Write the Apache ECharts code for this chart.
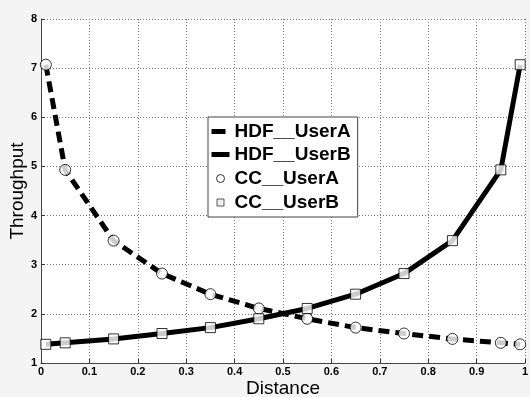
<!DOCTYPE html>
<html><head><meta charset="utf-8">
<script src="https://cdn.jsdelivr.net/npm/echarts@6/dist/echarts.min.js"></script>
<style>html,body{margin:0;padding:0;background:#f4f4f4}#c{width:530px;height:397px}</style>
</head><body><div id="c"></div>
<script>
const distance = [0.01, 0.05, 0.15, 0.25, 0.35, 0.45, 0.55, 0.65, 0.75, 0.85, 0.95, 0.99];
const userA = [7.07, 4.93, 3.49, 2.82, 2.40, 2.11, 1.90, 1.72, 1.60, 1.49, 1.41, 1.38];
const userB = [1.38, 1.41, 1.49, 1.60, 1.72, 1.90, 2.11, 2.40, 2.82, 3.49, 4.93, 7.07];
const seriesNames = ['HDF__UserA', 'HDF__UserB', 'CC__UserA', 'CC__UserB'];
const xTicks = [0, 0.1, 0.2, 0.3, 0.4, 0.5, 0.6, 0.7, 0.8, 0.9, 1];
const yTicks = [1, 2, 3, 4, 5, 6, 7, 8];

const pairs = ys => distance.map((x, i) => [x, ys[i]]);
const chart = echarts.init(document.getElementById('c'));
const lab = {color:'#000', fontWeight:'bold', fontSize:11, fontFamily:'Liberation Sans, Arial'};
const tick = {show:true, inside:true, length:4, lineStyle:{color:'#333', width:1}};
const axLine = {show:true, onZero:false, lineStyle:{color:'#444', width:1}};
chart.setOption({
  backgroundColor:'#f4f4f4',
  animation:false,
  grid:{left:41, top:19, right:5, bottom:34, outerBoundsMode:'none', containLabel:false,
    show:true, backgroundColor:'#fff', borderWidth:0},
  xAxis:{type:'value', min:xTicks[0], max:xTicks[xTicks.length-1], interval:0.1,
    name:'Distance', nameLocation:'middle', nameGap:16, nameMoveOverlap:false,
    nameTextStyle:{color:'#000', fontSize:19, fontFamily:'Liberation Sans, Arial'},
    axisLine:axLine, axisTick:tick,
    axisLabel:Object.assign({margin:3, formatter:v=>String(Math.round(v*10)/10)}, lab),
    splitLine:{lineStyle:{type:[1,2], color:'#777', width:1}}},
  yAxis:{type:'value', min:yTicks[0], max:yTicks[yTicks.length-1], interval:1,
    name:'Throughput', nameLocation:'middle', nameGap:14, nameMoveOverlap:false,
    nameTextStyle:{color:'#000', fontSize:19, fontFamily:'Liberation Sans, Arial'},
    axisLine:axLine, axisTick:tick,
    axisLabel:Object.assign({margin:4}, lab),
    splitLine:{lineStyle:{type:[1,2], color:'#777', width:1}}},
  legend:{orient:'vertical', left:208, top:117, backgroundColor:'#fff', borderColor:'#444', borderWidth:1,
    padding:[4,7,3,3], itemGap:1, itemWidth:18, itemHeight:22,
    textStyle:{color:'#000', fontWeight:'bold', fontSize:19, fontFamily:'Liberation Sans, Arial'},
    data:[
      {name:seriesNames[0], icon:'path://M0,0M18,22M0,8H14V13H0Z', itemStyle:{color:'#000', borderWidth:0}},
      {name:seriesNames[1], icon:'path://M0,0M18,22M0,8H18V13H0Z', itemStyle:{color:'#000', borderWidth:0}},
      {name:seriesNames[2], icon:'path://M0,0M18,22M9,7A4,4 0 1,1 9,15A4,4 0 1,1 9,7Z', itemStyle:{color:'#fff', borderColor:'#000', borderWidth:1}},
      {name:seriesNames[3], icon:'path://M0,0M18,22M5.5,7.5H12.5V14.5H5.5Z', itemStyle:{color:'#eee', borderColor:'#333', borderWidth:1}}
    ]},
  series:[
    {name:seriesNames[0], type:'line', data:pairs(userA), showSymbol:false, symbol:'none', z:2,
      lineStyle:{color:'#000', width:5, type:[11,6]}, itemStyle:{color:'#000'}},
    {name:seriesNames[1], type:'line', data:pairs(userB), showSymbol:false, symbol:'none', z:2,
      lineStyle:{color:'#000', width:5}, itemStyle:{color:'#000'}},
    {name:seriesNames[2], type:'scatter', data:pairs(userA), symbol:'circle', symbolSize:11, z:3,
      itemStyle:{color:'#fff', borderColor:'#000', borderWidth:1}},
    {name:seriesNames[3], type:'scatter', data:pairs(userB), symbol:'rect', symbolSize:10, z:3,
      itemStyle:{color:'#fff', borderColor:'#000', borderWidth:1}}
  ]
});
</script></body></html>
